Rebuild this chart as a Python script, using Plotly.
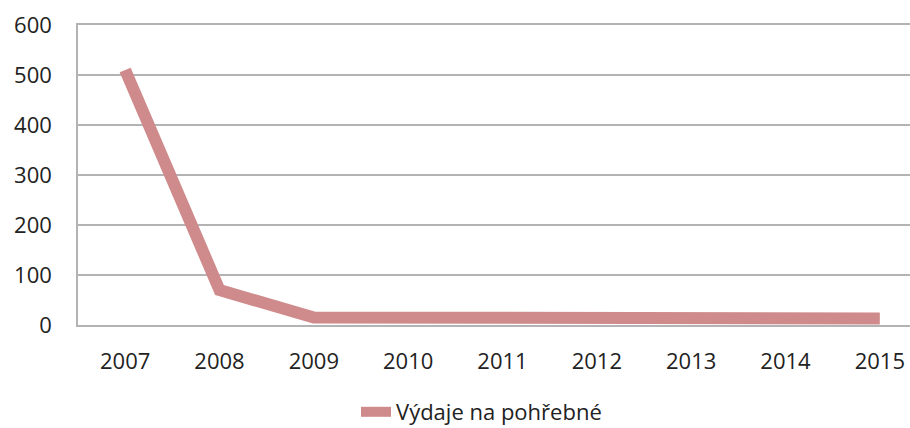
import plotly.graph_objects as go

years = ["2007", "2008", "2009", "2010", "2011", "2012", "2013", "2014", "2015"]
values = [510, 70, 15, 15, 14, 14, 14, 11, 13]
series_name = "Výdaje na pohřebné"
y_ticks = [0, 100, 200, 300, 400, 500, 600]

line_color = "rgb(207,139,139)"
grid_color = "#B3B3B3"
font_family = "Open Sans, DejaVu Sans, sans-serif"

fig = go.Figure()
fig.add_trace(go.Scatter(
    x=years, y=values, mode="lines", name=series_name,
    line=dict(color=line_color, width=12, shape="linear"),
))

fig.update_layout(
    width=910, height=428,
    margin=dict(l=78, r=0, t=25, b=103, autoexpand=False),
    paper_bgcolor="white", plot_bgcolor="white",
    font=dict(family=font_family, size=22, color="#222222"),
    showlegend=True,
    legend=dict(orientation="h", x=0.485, xanchor="center", y=-0.29, yanchor="middle",
                font=dict(size=22), bgcolor="rgba(0,0,0,0)"),
)
fig.update_xaxes(
    type="category", range=[-0.5, 8.32], automargin=False,
    showgrid=False, showline=True, mirror=True, linecolor=grid_color, linewidth=1.5,
    ticks="outside", ticklen=16, tickcolor="rgba(0,0,0,0)",
    tickfont=dict(size=22),
)
fig.update_yaxes(
    range=[0, 600], tickvals=y_ticks, automargin=False,
    showgrid=True, gridcolor=grid_color, gridwidth=1.5,
    showline=True, linecolor=grid_color, linewidth=1.5, zeroline=False,
    ticks="outside", ticklen=20, tickcolor="rgba(0,0,0,0)",
    tickfont=dict(size=22),
)

fig.write_html("out.html", config={"displayModeBar": False},
               post_script="document.body.style.margin='0';")
